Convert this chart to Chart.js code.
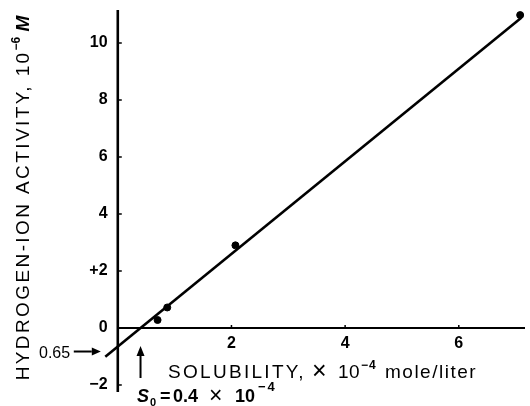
<!DOCTYPE html>
<html><head><meta charset="utf-8">
<script src="https://cdn.jsdelivr.net/npm/chart.js@4/dist/chart.umd.min.js"></script>
<style>html,body{margin:0;padding:0;background:#fff}</style>
</head><body>
<canvas id="c" width="530" height="406"></canvas>
<script>
// measured data points (solubility x10^-4 mole/liter, H+ activity x10^-6 M)
const solubility = [0.70, 0.87, 2.07, 7.08];
const activity = [0.28, 0.72, 2.90, 10.98];
// fitted straight line end points
const fitX = [-0.22, 7.10];
const fitY = [-1.01, 10.89];
const xTicks = [2, 4, 6];
const yTicks = [-2, 0, 2, 4, 6, 8, 10];
const yTickLabels = ['\u22122', '0', '+2', '4', '6', '8', '10'];
const intercept = -0.65;
const s0 = 0.4;

const FONT = '"Liberation Sans", Arial, Helvetica, sans-serif';

function arrow(ctx, x1, y1, x2, y2, head, hw) {
  const a = Math.atan2(y2 - y1, x2 - x1);
  const bx = x2 - head * Math.cos(a), by = y2 - head * Math.sin(a);
  ctx.beginPath(); ctx.moveTo(x1, y1); ctx.lineTo(bx, by); ctx.stroke();
  ctx.beginPath();
  ctx.moveTo(x2, y2);
  ctx.lineTo(bx + hw * Math.sin(a), by - hw * Math.cos(a));
  ctx.lineTo(bx - hw * Math.sin(a), by + hw * Math.cos(a));
  ctx.closePath(); ctx.fill();
}

const decor = {
  id: 'decor',
  beforeDatasetsDraw(chart) {
    const {ctx, chartArea: ca, scales: {x: xs, y: ys}} = chart;
    const x0 = xs.getPixelForValue(0), y0 = ys.getPixelForValue(0);
    ctx.save();
    ctx.strokeStyle = '#000'; ctx.fillStyle = '#000';
    ctx.lineWidth = 2.6;
    ctx.beginPath(); ctx.moveTo(x0, ca.top); ctx.lineTo(x0, ca.bottom); ctx.stroke();
    ctx.lineWidth = 2;
    ctx.beginPath(); ctx.moveTo(x0, y0); ctx.lineTo(ca.right, y0); ctx.stroke();
    ctx.lineWidth = 1.5;
    yTicks.forEach(v => { if (v === 0) return; const p = ys.getPixelForValue(v);
      ctx.beginPath(); ctx.moveTo(x0, p); ctx.lineTo(x0 + 4, p); ctx.stroke(); });
    xTicks.forEach(v => { const p = xs.getPixelForValue(v);
      ctx.beginPath(); ctx.moveTo(p, y0); ctx.lineTo(p, y0 - 3); ctx.stroke(); });
    ctx.restore();
  },
  afterDraw(chart) {
    const {ctx, scales: {x: xs, y: ys}} = chart;
    const x0 = xs.getPixelForValue(0), y0 = ys.getPixelForValue(0);
    ctx.save();
    ctx.strokeStyle = '#000'; ctx.fillStyle = '#000';
    ctx.textBaseline = 'alphabetic'; ctx.textAlign = 'left';
    // intercept annotation
    const yi = ys.getPixelForValue(intercept) + 5;
    ctx.font = '16px ' + FONT;
    ctx.fillText('0.65', 39, yi + 6);
    ctx.lineWidth = 2;
    arrow(ctx, x0 - 44, yi, x0 - 17, yi, 9, 4);
    // S0 arrow
    const xs0 = xs.getPixelForValue(s0);
    arrow(ctx, xs0, y0 + 50, xs0, y0 + 18, 10, 4);
    // S0 label
    const by = 402;
    ctx.font = 'italic bold 18px ' + FONT; ctx.fillText('S', 137, by);
    ctx.font = 'bold 11px ' + FONT; ctx.fillText('0', 150, by + 4);
    ctx.font = 'bold 18px ' + FONT;
    ctx.fillText('=', 160, by);
    ctx.fillText('0.4', 173, by);
    ctx.font = '23px ' + FONT; ctx.fillText('\u00d7', 209, by + 1);
    ctx.font = 'bold 18px ' + FONT; ctx.fillText('10', 235, by);
    ctx.font = 'bold 13px ' + FONT; ctx.letterSpacing = '2px'; ctx.fillText('\u22124', 258, by - 11);
    ctx.letterSpacing = '0px';
    // x title
    const tb = 378;
    ctx.font = '19px ' + FONT; ctx.letterSpacing = '2.3px';
    ctx.fillText('SOLUBILITY,', 168, tb);
    ctx.letterSpacing = '0px';
    ctx.font = '25px ' + FONT; ctx.fillText('\u00d7', 312, tb + 1);
    ctx.font = '19px ' + FONT; ctx.letterSpacing = '0.5px'; ctx.fillText('10', 338, tb);
    ctx.letterSpacing = '1px';
    ctx.font = 'bold 12px ' + FONT; ctx.fillText('\u22124', 361, tb - 9);
    ctx.font = '19px ' + FONT; ctx.letterSpacing = '1.5px';
    ctx.fillText('mole/liter', 385, tb);
    ctx.letterSpacing = '0px';
    // y title (rotated)
    ctx.translate(29, 198); ctx.rotate(-Math.PI / 2);
    const parts = [
      {t: 'HYDROGEN-ION ACTIVITY, 10', f: '19px ' + FONT, dy: 0, ls: 2.4},
      {t: '\u22126', f: 'bold 12px ' + FONT, dy: -9, ls: 0},
      {t: ' M', f: 'italic bold 19px ' + FONT, dy: 0, ls: 0}
    ];
    let tot = 0;
    parts.forEach(p => { ctx.font = p.f; ctx.letterSpacing = p.ls + 'px'; p.w = ctx.measureText(p.t).width; tot += p.w; });
    let px = -tot / 2;
    parts.forEach(p => { ctx.font = p.f; ctx.letterSpacing = p.ls + 'px'; ctx.fillText(p.t, px, p.dy); px += p.w; });
    ctx.restore();
  }
};

new Chart(document.getElementById('c'), {
  type: 'scatter',
  data: { datasets: [
    { data: fitX.map((v, i) => ({x: v, y: fitY[i]})), showLine: true, borderColor: '#000',
      borderWidth: 2.6, pointRadius: 0, fill: false, clip: false },
    { data: solubility.map((v, i) => ({x: v, y: activity[i]})), showLine: false,
      pointRadius: 3.5, backgroundColor: '#000', borderColor: '#000', clip: false }
  ]},
  options: {
    responsive: false, devicePixelRatio: 1, animation: false,
    layout: { padding: {left: 100, right: 0, top: 10, bottom: 14} },
    plugins: { legend: {display: false}, tooltip: {enabled: false}, title: {display: false} },
    scales: {
      x: { type: 'linear', min: -0.313, max: 7.165, position: {y: 0},
        grid: {display: false}, border: {display: false},
        afterBuildTicks: s => { s.ticks = xTicks.map(v => ({value: v})); },
        ticks: { color: '#000', padding: -2, font: {family: FONT, size: 16, weight: 'bold'},
          callback: v => String(v) } },
      y: { type: 'linear', min: -2.246, max: 11.158, position: {x: -0.18},
        grid: {display: false}, border: {display: false},
        afterBuildTicks: s => { s.ticks = yTicks.map(v => ({value: v})); },
        ticks: { color: '#000', padding: 0, font: {family: FONT, size: 16, weight: 'bold'},
          callback: (v, i) => yTickLabels[i] } }
    }
  },
  plugins: [decor]
});
</script>
</body></html>
